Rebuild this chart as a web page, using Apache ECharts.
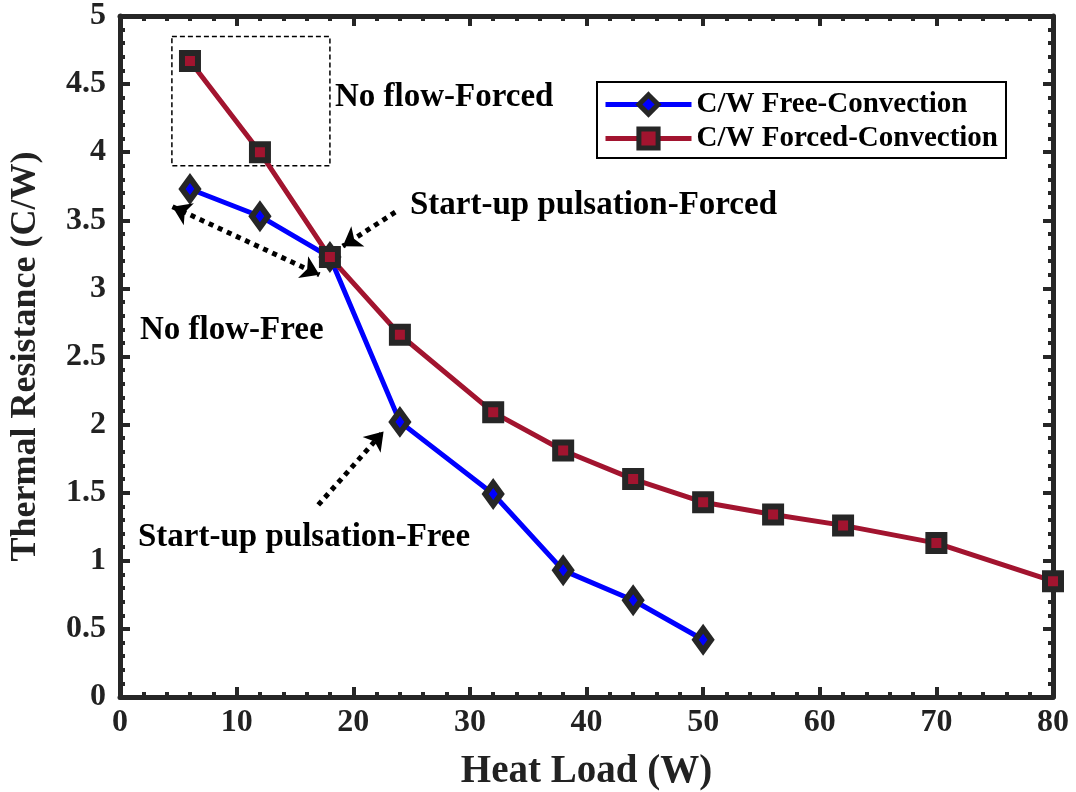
<!DOCTYPE html>
<html lang="en">
  <head>
    <meta charset="UTF-8" />
    <title>Thermal Resistance</title>
    <script src="https://cdn.jsdelivr.net/npm/echarts@6/dist/echarts.min.js"></script>
  </head>
  <body style="margin: 0">
    <div id="main" style="height: 792px; width: 1076px"></div>
  </body>
</html>
<script>
  const heatFree = [6, 12, 18, 24, 32, 38, 44, 50]
  const resFree = [3.73, 3.53, 3.23, 2.02, 1.49, 0.93, 0.71, 0.42]

  const heatForced = [6, 12, 18, 24, 32, 38, 44, 50, 56, 62, 70, 80]
  const resForced = [4.67, 4.0, 3.23, 2.66, 2.09, 1.81, 1.6, 1.43, 1.34, 1.26, 1.13, 0.85]

  const seriesNames = ['C/W Free-Convection', 'C/W Forced-Convection']

  const font = 'Liberation Serif, Times New Roman, serif'
  const dark = '#262626'

  const chartInstance = echarts.init(document.getElementById('main'))

  const freeData = heatFree.map((x, i) => [x, resFree[i]])
  const forcedData = heatForced.map((x, i) => [x, resForced[i]])

  const tickCommon = {
    axisLine: { show: true, onZero: false, lineStyle: { color: dark, width: 5 } },
    axisTick: { show: true, inside: true, length: 10, lineStyle: { color: dark, width: 4 } },
    minorTick: { show: true, splitNumber: 5, length: 5, lineStyle: { color: dark, width: 4 } },
    splitLine: { show: false }
  }

  const arrowLine = { color: '#000', width: 5, type: [5, 5] }

  const option = {
    animation: false,
    textStyle: { fontFamily: font },
    grid: { left: 120, right: 23, top: 16, bottom: 95, outerBoundsMode: 'none', containLabel: false },
    legend: {
      data: seriesNames,
      orient: 'vertical',
      left: 597,
      top: 82,
      padding: [8, 8, 5, 6],
      itemWidth: 86,
      itemHeight: 24,
      itemGap: 5,
      borderColor: '#000',
      borderWidth: 2,
      backgroundColor: '#fff',
      lineStyle: { width: 5 },
      itemStyle: { borderWidth: 5 },
      textStyle: { fontFamily: font, fontWeight: 'bold', fontSize: 29, color: '#000' }
    },
    xAxis: [
      {
        type: 'value',
        min: 0,
        max: 80,
        interval: 10,
        name: 'Heat Load (W)',
        nameLocation: 'middle',
        nameGap: 55,
        nameTextStyle: { fontFamily: font, fontWeight: 'bold', fontSize: 39, color: '#222' },
        axisLabel: { fontFamily: font, fontWeight: 'bold', fontSize: 32, color: '#222', margin: 10 },
        ...tickCommon
      },
      {
        type: 'value',
        position: 'top',
        min: 0,
        max: 80,
        interval: 10,
        axisLabel: { show: false },
        ...tickCommon
      }
    ],
    yAxis: [
      {
        type: 'value',
        min: 0,
        max: 5,
        interval: 0.5,
        name: 'Thermal Resistance (C/W)',
        nameLocation: 'middle',
        nameGap: 76,
        nameTextStyle: { fontFamily: font, fontWeight: 'bold', fontSize: 36, color: '#222' },
        axisLabel: { fontFamily: font, fontWeight: 'bold', fontSize: 32, color: '#222', margin: 14 },
        ...tickCommon
      },
      {
        type: 'value',
        position: 'right',
        min: 0,
        max: 5,
        interval: 0.5,
        axisLabel: { show: false },
        ...tickCommon
      }
    ],
    series: [
      {
        name: seriesNames[0],
        type: 'line',
        data: freeData,
        symbol: 'diamond',
        symbolSize: [16, 22],
        lineStyle: { color: '#0000ff', width: 5 },
        itemStyle: { color: '#0000ff', borderColor: dark, borderWidth: 6 },
        markLine: {
          silent: true,
          label: { show: false },
          symbol: ['none', 'arrow'],
          symbolSize: 18,
          lineStyle: arrowLine,
          data: [
            [{ coord: [17.0, 1.41] }, { coord: [22.6, 1.95] }],
            [{ coord: [23.6, 3.56] }, { coord: [19.1, 3.31] }],
            [
              { coord: [4.5, 3.6], symbol: 'arrow' },
              { coord: [17.1, 3.1] }
            ]
          ]
        }
      },
      {
        name: seriesNames[1],
        type: 'line',
        data: forcedData,
        symbol: 'rect',
        symbolSize: 16,
        lineStyle: { color: '#a2142f', width: 5 },
        itemStyle: { color: '#a2142f', borderColor: dark, borderWidth: 6 },
        markArea: {
          silent: true,
          itemStyle: { color: 'transparent', borderColor: '#000', borderWidth: 1.5, borderType: [5, 3] },
          data: [[{ coord: [4.45, 4.85] }, { coord: [18.0, 3.9] }]]
        }
      }
    ],
    graphic: [
      { type: 'text', left: 335, top: 81, style: { text: 'No flow-Forced', font: 'bold 33px ' + font, fill: '#000' } },
      { type: 'text', left: 410, top: 189, style: { text: 'Start-up pulsation-Forced', font: 'bold 33px ' + font, fill: '#000' } },
      { type: 'text', left: 140, top: 314, style: { text: 'No flow-Free', font: 'bold 33px ' + font, fill: '#000' } },
      { type: 'text', left: 138, top: 521, style: { text: 'Start-up pulsation-Free', font: 'bold 33px ' + font, fill: '#000' } }
    ]
  }

  chartInstance.setOption(option)

  window.addEventListener('resize', () => {
    chartInstance.resize()
  })
</script>
